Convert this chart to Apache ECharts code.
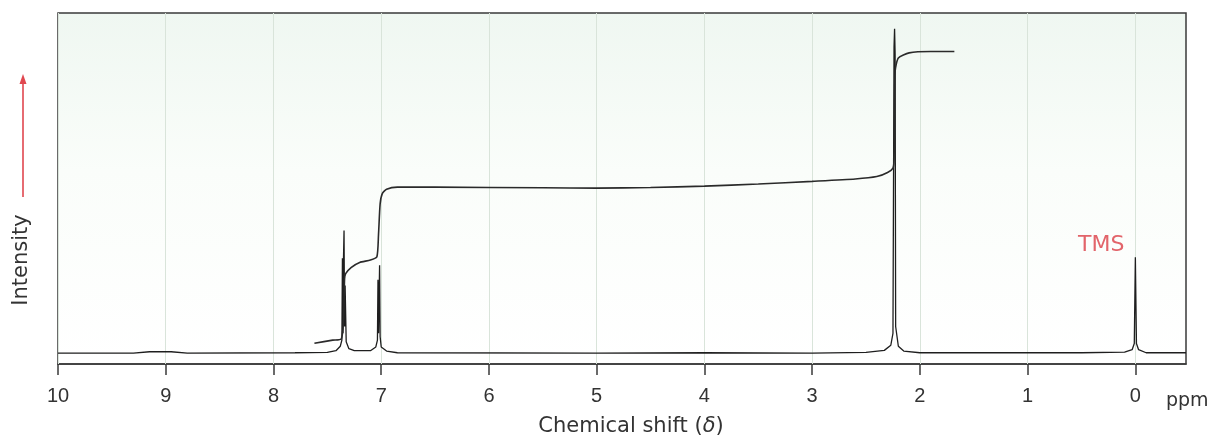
<!DOCTYPE html>
<html>
<head>
<meta charset="utf-8">
<script src="https://cdn.jsdelivr.net/npm/echarts@6/dist/echarts.min.js"></script>
<style>
  html, body { margin: 0; padding: 0; background: #fff; }
  #main { width: 1216px; height: 442px; }
</style>
</head>
<body>
<div id="main"></div>
<script>
// tick labels on the chemical shift axis (ppm)
var shiftTicks = [10, 9, 8, 7, 6, 5, 4, 3, 2, 1, 0];

// spectrum trace: [ppm, intensity]
var spectrum = [
    [10, 0.2], [9.3, 0.2], [9.15, 0.6], [8.95, 0.6], [8.8, 0.2], [7.8, 0.3],
    [7.5, 0.4], [7.42, 0.9], [7.38, 2.2], [7.365, 4], [7.36, 28], [7.355, 6],
    [7.35, 28], [7.345, 36.2], [7.34, 8], [7.335, 20], [7.325, 3.5], [7.30, 1.5],
    [7.25, 0.9], [7.10, 0.9], [7.05, 2], [7.035, 4], [7.03, 21.7], [7.025, 6],
    [7.015, 26], [7.01, 5], [7.0, 2], [6.95, 0.8], [6.85, 0.3], [5, 0.2],
    [4, 0.3], [3, 0.2], [2.5, 0.4], [2.33, 1], [2.27, 2.5], [2.25, 6],
    [2.24, 90], [2.235, 95.4], [2.23, 88], [2.225, 8], [2.2, 2.2], [2.15, 0.8],
    [2.0, 0.3], [1.0, 0.3], [0.5, 0.3], [0.1, 0.5], [0.03, 1.2], [0.01, 3],
    [0.0, 28.3], [-0.01, 3], [-0.03, 1.2], [-0.1, 0.3], [-0.47, 0.3]
];

// integral curve: [ppm, height]
var integral = [
    [7.62, 3.1], [7.45, 4.0], [7.37, 4.4], [7.35, 10], [7.34, 22], [7.33, 23.5],
    [7.28, 25.3], [7.20, 26.8], [7.10, 27.5], [7.04, 28.5], [7.025, 35], [7.01, 44],
    [6.99, 47], [6.95, 48.3], [6.85, 48.9], [6.5, 48.9], [5.5, 48.7], [5.0, 48.6],
    [4.5, 48.8], [4.0, 49.2], [3.5, 49.8], [3.0, 50.6], [2.6, 51.3], [2.4, 52],
    [2.3, 53.2], [2.25, 54.5], [2.24, 57], [2.235, 70], [2.23, 82.9], [2.20, 86.8],
    [2.10, 88.3], [1.9, 88.7], [1.68, 88.7]
];

var tmsPeak = [0.0, 28.3];

var wideFont = '"DejaVu Sans", "Liberation Sans", sans-serif';

var chart = echarts.init(document.getElementById('main'));
chart.setOption({
    animation: false,
    textStyle: { fontFamily: 'Liberation Sans, Arial, sans-serif' },
    grid: {
        left: 58, right: 30, top: 13, bottom: 74,
        show: true,
        borderColor: '#3a3a3a',
        borderWidth: 1.5,
        backgroundColor: new echarts.graphic.LinearGradient(0, 0, 0, 1, [
            { offset: 0, color: '#eff7f1' },
            { offset: 0.45, color: '#fafdfa' },
            { offset: 1, color: '#ffffff' }
        ])
    },
    xAxis: {
        type: 'value',
        inverse: true,
        min: -0.47,
        max: 10,
        name: 'Chemical shift ({i|δ})',
        nameLocation: 'middle',
        nameGap: 52,
        nameTextStyle: {
            fontSize: 21,
            fontFamily: wideFont,
            color: '#333',
            padding: [0, 0, 0, 18],
            rich: { i: { fontSize: 21, fontFamily: wideFont, fontStyle: 'italic', color: '#333' } }
        },
        axisLine: { show: true, onZero: false, lineStyle: { color: '#3a3a3a', width: 1.5 } },
        axisTick: {
            show: true,
            length: 11,
            inside: false,
            customValues: shiftTicks,
            lineStyle: { color: '#3a3a3a', width: 1.5 }
        },
        axisLabel: {
            customValues: shiftTicks,
            margin: 22,
            fontSize: 20,
            color: '#333'
        },
        splitLine: { show: false }
    },
    yAxis: {
        type: 'value',
        min: -3,
        max: 100,
        show: false
    },
    graphic: [
        {
            type: 'text',
            x: 22,
            y: 260,
            rotation: Math.PI / 2,
            style: {
                text: 'Intensity',
                fill: '#333',
                font: '21px "DejaVu Sans", "Liberation Sans", sans-serif',
                align: 'center',
                verticalAlign: 'middle'
            }
        },
        {
            type: 'line',
            shape: { x1: 23, y1: 197, x2: 23, y2: 82 },
            style: { stroke: '#e0474f', lineWidth: 1.6 }
        },
        {
            type: 'polygon',
            shape: { points: [[23, 74], [19.5, 84], [26.5, 84]] },
            style: { fill: '#e0474f' }
        },
        {
            type: 'text',
            x: 1166,
            y: 401,
            style: {
                text: 'ppm',
                fill: '#333',
                font: '19px "DejaVu Sans", "Liberation Sans", sans-serif',
                verticalAlign: 'middle'
            }
        }
    ],
    series: [
        {
            // faint vertical rules at each whole ppm
            type: 'line',
            data: [],
            markLine: {
                silent: true,
                z: 1,
                symbol: 'none',
                label: { show: false },
                lineStyle: { color: '#d9e4da', width: 1, type: 'solid' },
                data: shiftTicks.map(function (v) { return { xAxis: v }; })
            }
        },
        {
            name: 'spectrum',
            type: 'line',
            z: 3,
            data: spectrum,
            showSymbol: false,
            smooth: false,
            lineStyle: { color: '#1e1e1e', width: 1.3 },
            markPoint: {
                symbol: 'circle',
                symbolSize: 0,
                label: {
                    show: true,
                    formatter: 'TMS',
                    position: 'left',
                    offset: [-6, -12],
                    fontSize: 22,
                    fontFamily: wideFont,
                    color: '#e2646a'
                },
                data: [{ coord: tmsPeak }]
            }
        },
        {
            name: 'integral',
            type: 'line',
            z: 3,
            data: integral,
            showSymbol: false,
            smooth: 0.2,
            lineStyle: { color: '#2a2a2a', width: 1.6 }
        }
    ]
});
</script>
</body>
</html>
